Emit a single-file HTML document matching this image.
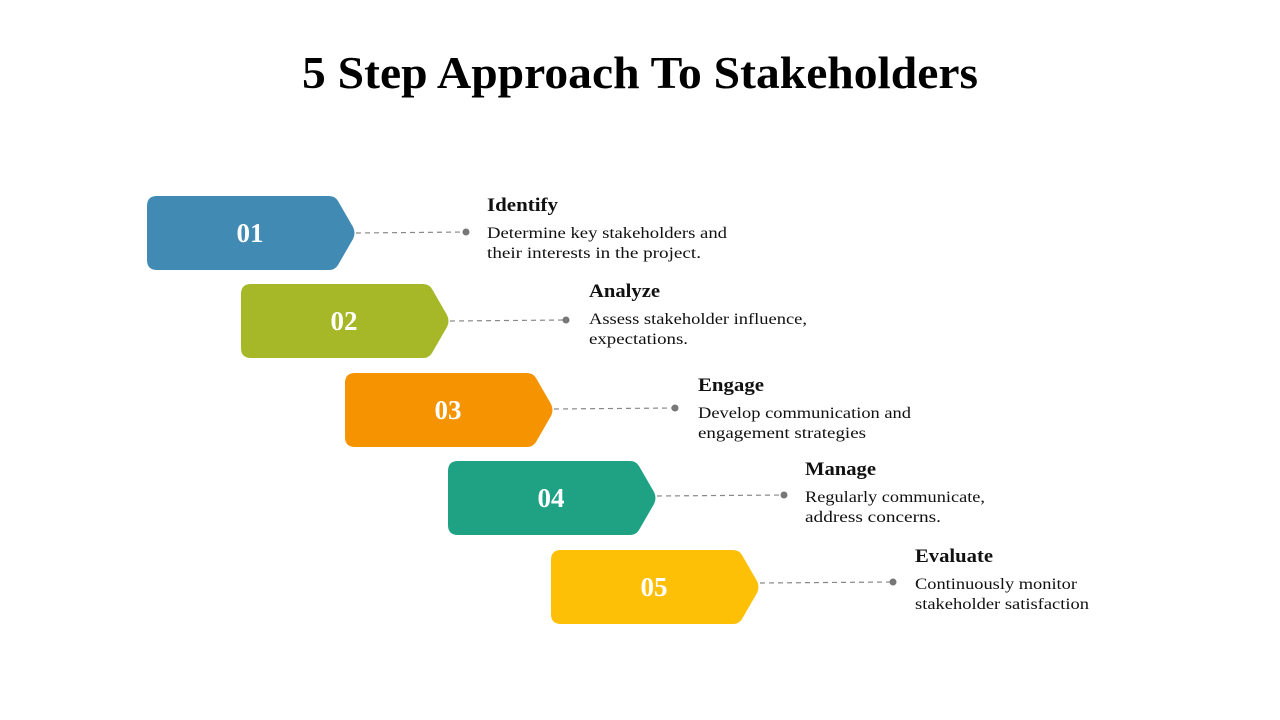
<!DOCTYPE html>
<html><head><meta charset="utf-8"><style>
body{margin:0;width:1280px;height:720px;background:#fff;overflow:hidden}
svg{display:block}
</style></head><body>
<svg width="1280" height="720" xmlns="http://www.w3.org/2000/svg" font-family="'Liberation Serif', serif">
<defs><path id="s" d="M10,0 H182 Q188,0 191,5 L206,31 Q209,37 206,43 L191,69 Q188,74 182,74 H10 Q0,74 0,64 V10 Q0,0 10,0Z"/></defs>
<text x="302" y="88" textLength="676" lengthAdjust="spacingAndGlyphs" font-size="45" font-weight="bold" fill="#000">5 Step Approach To Stakeholders</text>
<g font-size="27" font-weight="bold" fill="#fff" text-anchor="middle">
<use href="#s" x="147" y="196" fill="#418AB3"/><text x="250" y="242" fill="#fff">01</text>
<use href="#s" x="241" y="284" fill="#A6B727"/><text x="344" y="330" fill="#fff">02</text>
<use href="#s" x="345" y="373" fill="#F59300"/><text x="448" y="419" fill="#fff">03</text>
<use href="#s" x="448" y="461" fill="#1FA284"/><text x="551" y="507" fill="#fff">04</text>
<use href="#s" x="551" y="550" fill="#FDC007"/><text x="654" y="596" fill="#fff">05</text>
</g>
<g stroke="#888" stroke-width="1.2" stroke-dasharray="5,4">
<line x1="356" y1="233" x2="466" y2="232"/>
<line x1="450" y1="321" x2="566" y2="320"/>
<line x1="554" y1="409" x2="675" y2="408"/>
<line x1="657" y1="496" x2="784" y2="495"/>
<line x1="760" y1="583" x2="893" y2="582"/>
</g>
<g fill="#777">
<circle cx="466" cy="232" r="3.5"/><circle cx="566" cy="320" r="3.5"/><circle cx="675" cy="408" r="3.5"/><circle cx="784" cy="495" r="3.5"/><circle cx="893" cy="582" r="3.5"/>
</g>
<g fill="#111" lengthAdjust="spacingAndGlyphs">
<text x="487" y="211" font-size="19" font-weight="bold" textLength="71" lengthAdjust="spacingAndGlyphs">Identify</text>
<text x="487" y="238" font-size="16" textLength="240" lengthAdjust="spacingAndGlyphs">Determine key stakeholders and</text>
<text x="487" y="258" font-size="16" textLength="214" lengthAdjust="spacingAndGlyphs">their interests in the project.</text>
<text x="589" y="297" font-size="19" font-weight="bold" textLength="71" lengthAdjust="spacingAndGlyphs">Analyze</text>
<text x="589" y="324" font-size="16" textLength="218" lengthAdjust="spacingAndGlyphs">Assess stakeholder influence,</text>
<text x="589" y="344" font-size="16" textLength="99" lengthAdjust="spacingAndGlyphs">expectations.</text>
<text x="698" y="391" font-size="19" font-weight="bold" textLength="66" lengthAdjust="spacingAndGlyphs">Engage</text>
<text x="698" y="418" font-size="16" textLength="213" lengthAdjust="spacingAndGlyphs">Develop communication and</text>
<text x="698" y="438" font-size="16" textLength="168" lengthAdjust="spacingAndGlyphs">engagement strategies</text>
<text x="805" y="475" font-size="19" font-weight="bold" textLength="71" lengthAdjust="spacingAndGlyphs">Manage</text>
<text x="805" y="502" font-size="16" textLength="180" lengthAdjust="spacingAndGlyphs">Regularly communicate,</text>
<text x="805" y="522" font-size="16" textLength="136" lengthAdjust="spacingAndGlyphs">address concerns.</text>
<text x="915" y="562" font-size="19" font-weight="bold" textLength="78" lengthAdjust="spacingAndGlyphs">Evaluate</text>
<text x="915" y="589" font-size="16" textLength="162" lengthAdjust="spacingAndGlyphs">Continuously monitor</text>
<text x="915" y="609" font-size="16" textLength="174" lengthAdjust="spacingAndGlyphs">stakeholder satisfaction</text>
</g>
</svg>
</body></html>
